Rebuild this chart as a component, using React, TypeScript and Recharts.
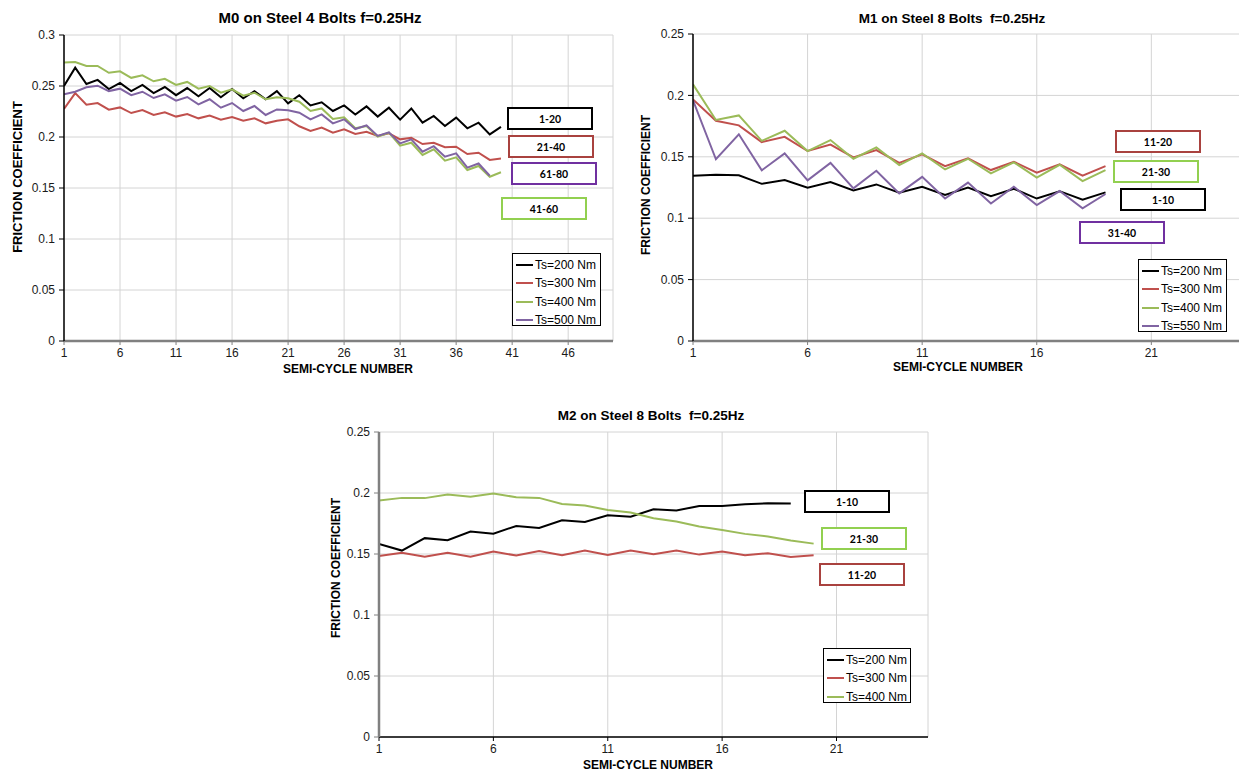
import React from "react";
import { LineChart, Line, XAxis, YAxis, CartesianGrid, Legend } from "recharts";

const FONT = "'Liberation Sans', Arial, sans-serif";
const TAG_FONT = "Lato, 'Liberation Sans', sans-serif";

// M0 on Steel 4 Bolts (semi-cycles 1..40)
const m0Ts200 = [0.250, 0.268, 0.252, 0.256, 0.247, 0.253, 0.245, 0.251, 0.243, 0.249, 0.241, 0.248, 0.240, 0.248, 0.239, 0.247, 0.238, 0.245, 0.237, 0.245, 0.233, 0.241, 0.231, 0.234, 0.2255, 0.231, 0.222, 0.230, 0.220, 0.2287, 0.217, 0.228, 0.214, 0.2206, 0.2108, 0.219, 0.2085, 0.214, 0.2026, 0.210];
const m0Ts300 = [0.2275, 0.243, 0.2317, 0.2333, 0.2268, 0.229, 0.2235, 0.2265, 0.2216, 0.2242, 0.220, 0.2225, 0.2183, 0.221, 0.217, 0.2196, 0.216, 0.2183, 0.2134, 0.216, 0.2173, 0.2105, 0.2059, 0.2092, 0.2042, 0.2075, 0.203, 0.2052, 0.201, 0.2036, 0.1977, 0.1993, 0.1931, 0.1944, 0.190, 0.1905, 0.1833, 0.1846, 0.1775, 0.179];
const m0Ts400 = [0.273, 0.2735, 0.2696, 0.2696, 0.263, 0.2644, 0.258, 0.2605, 0.2546, 0.257, 0.251, 0.254, 0.2474, 0.250, 0.2434, 0.2467, 0.2405, 0.2434, 0.237, 0.239, 0.238, 0.2346, 0.2255, 0.228, 0.2176, 0.2193, 0.2085, 0.2108, 0.2003, 0.2042, 0.1915, 0.1944, 0.1824, 0.188, 0.1768, 0.180, 0.1676, 0.1716, 0.161, 0.1654];
const m0Ts500 = [0.2418, 0.2444, 0.2487, 0.2503, 0.245, 0.2474, 0.241, 0.2444, 0.2382, 0.2418, 0.2356, 0.2392, 0.232, 0.237, 0.2287, 0.2333, 0.2255, 0.2304, 0.2216, 0.227, 0.2262, 0.2238, 0.2173, 0.2222, 0.2134, 0.2173, 0.2078, 0.2114, 0.201, 0.2046, 0.1937, 0.1977, 0.1856, 0.191, 0.1807, 0.184, 0.170, 0.174, 0.162];

// M1 on Steel 8 Bolts
const m1Ts200 = [0.1346, 0.1354, 0.135, 0.128, 0.131, 0.1248, 0.1294, 0.1226, 0.1275, 0.1207, 0.1256, 0.119, 0.125, 0.118, 0.124, 0.116, 0.122, 0.115, 0.121];
const m1Ts300 = [0.1967, 0.1793, 0.1756, 0.162, 0.1663, 0.1547, 0.160, 0.1495, 0.1555, 0.1451, 0.152, 0.1424, 0.1487, 0.1392, 0.146, 0.137, 0.1438, 0.1346, 0.1424];
const m1Ts400 = [0.209, 0.180, 0.1837, 0.163, 0.1712, 0.1547, 0.1636, 0.1484, 0.1577, 0.1433, 0.1528, 0.1397, 0.1484, 0.1365, 0.1455, 0.133, 0.1435, 0.1302, 0.1392];
const m1Ts550 = [0.196, 0.148, 0.1683, 0.139, 0.1528, 0.1308, 0.145, 0.1243, 0.1386, 0.1202, 0.1337, 0.116, 0.129, 0.112, 0.1256, 0.1107, 0.1221, 0.108, 0.1197];

// M2 on Steel 8 Bolts
const m2Ts200 = [0.1582, 0.1528, 0.163, 0.1613, 0.1684, 0.1667, 0.173, 0.1714, 0.1777, 0.1763, 0.1818, 0.1806, 0.1867, 0.1856, 0.1894, 0.1894, 0.1908, 0.1916, 0.1913];
const m2Ts300 = [0.1484, 0.1511, 0.1478, 0.1511, 0.1478, 0.152, 0.1487, 0.1525, 0.149, 0.1528, 0.1492, 0.1528, 0.1498, 0.1528, 0.1495, 0.152, 0.149, 0.1506, 0.1476, 0.149];
const m2Ts400 = [0.1938, 0.196, 0.1958, 0.1987, 0.197, 0.1995, 0.1966, 0.196, 0.191, 0.1897, 0.1861, 0.184, 0.1793, 0.1766, 0.1725, 0.1697, 0.1665, 0.1643, 0.161, 0.1585];

const m0XTicks = [1, 6, 11, 16, 21, 26, 31, 36, 41, 46];
const m12XTicks = [1, 6, 11, 16, 21];
const m0YTicks = [0, 0.05, 0.1, 0.15, 0.2, 0.25, 0.3];
const m12YTicks = [0, 0.05, 0.1, 0.15, 0.2, 0.25];

const m0Tags = ["1-20", "21-40", "61-80", "41-60"];
const m1Tags = ["11-20", "21-30", "1-10", "31-40"];
const m2Tags = ["1-10", "21-30", "11-20"];

const BLACK = "#000000";
const RED = "#C0504D";
const GREEN = "#9BBB59";
const PURPLE = "#8064A2";

type Serie = { key: string; name: string; color: string; values: number[] };

const buildRows = (series: Serie[]) => {
  const n = Math.max(...series.map((s) => s.values.length));
  const rows: any[] = [];
  for (let i = 0; i < n; i++) {
    const row: any = { cycle: i + 1 };
    series.forEach((s) => {
      row[s.key] = i < s.values.length ? s.values[i] : null;
    });
    rows.push(row);
  }
  return rows;
};

const AxisName = (props: any) => {
  const { px, py, text, rotate, size } = props;
  return (
    <text
      x={px}
      y={py}
      textAnchor="middle"
      dominantBaseline="central"
      transform={rotate ? `rotate(-90 ${px} ${py})` : undefined}
      fontFamily={FONT}
      fontWeight="bold"
      fontSize={size}
      fill="#000"
    >
      {text}
    </text>
  );
};

const BoxLegend = (props: any) => {
  const { payload, w, h } = props;
  return (
    <div
      style={{
        width: w,
        height: h,
        border: "1px solid #000",
        background: "#fff",
        boxSizing: "border-box",
        padding: "2px 0 0 3px",
        fontFamily: FONT,
        fontSize: 12,
        color: "#000",
      }}
    >
      {(payload || []).map((p: any) => (
        <div key={p.value} style={{ display: "flex", alignItems: "center", height: 18.3 }}>
          <span style={{ display: "inline-block", width: 17, height: 2, background: p.color, marginRight: 2 }} />
          <span>{p.value}</span>
        </div>
      ))}
    </div>
  );
};

const Tag = ({ x, y, color, text }: { x: number; y: number; color: string; text: string }) => (
  <div
    style={{
      position: "absolute",
      left: x,
      top: y,
      width: 86,
      height: 23,
      border: `2px solid ${color}`,
      boxSizing: "border-box",
      background: "#fff",
      display: "flex",
      alignItems: "center",
      justifyContent: "center",
      fontFamily: TAG_FONT,
      fontWeight: 700,
      fontSize: 10.5,
      color: "#000",
    }}
  >
    {text}
  </div>
);

const Title = ({ x, y, size, text }: { x: number; y: number; size: number; text: string }) => (
  <div
    style={{
      position: "absolute",
      left: x,
      top: y,
      transform: "translate(-50%, -50%)",
      whiteSpace: "pre",
      fontFamily: FONT,
      fontWeight: "bold",
      fontSize: size,
      color: "#000",
    }}
  >
    {text}
  </div>
);

type ChartCfg = {
  left: number;
  top: number;
  series: Serie[];
  xMax: number;
  xTicks: number[];
  yMax: number;
  yTicks: number[];
  marginTop: number;
  marginRight: number;
  yAxisColor: string;
  yAxisWidth: number;
  xAxisColor: string;
  xAxisWidth: number;
  yName: { px: number; py: number; size: number };
  xName: { px: number; py: number; size: number };
  legend: { x: number; y: number; w: number; h: number };
};

const FrictionChart = ({ cfg }: { cfg: ChartCfg }) => {
  const rows = buildRows(cfg.series);
  return (
    <div style={{ position: "absolute", left: cfg.left, top: cfg.top }}>
      <LineChart
        width={625}
        height={380}
        data={rows}
        margin={{ top: cfg.marginTop, right: cfg.marginRight, left: 0, bottom: 0 }}
      >
        <CartesianGrid stroke="#d4d4d4" strokeWidth={1} />
        <XAxis
          dataKey="cycle"
          type="number"
          domain={[1, cfg.xMax]}
          ticks={cfg.xTicks}
          interval={0}
          allowDataOverflow
          height={39}
          tickSize={4}
          tickMargin={3}
          axisLine={{ stroke: cfg.xAxisColor, strokeWidth: cfg.xAxisWidth }}
          tickLine={{ stroke: cfg.xAxisColor }}
          tick={{ fill: "#1a1a1a", fontSize: 12, fontFamily: FONT }}
          label={<AxisName px={cfg.xName.px} py={cfg.xName.py} size={cfg.xName.size} text="SEMI-CYCLE NUMBER" />}
        />
        <YAxis
          type="number"
          domain={[0, cfg.yMax]}
          ticks={cfg.yTicks}
          interval={0}
          allowDataOverflow
          width={cfg.yAxisWidth}
          tickSize={5}
          tickMargin={4}
          axisLine={{ stroke: cfg.yAxisColor, strokeWidth: cfg.yAxisColor === BLACK ? 1.5 : 2.5 }}
          tickLine={{ stroke: cfg.yAxisColor }}
          tick={{ fill: "#1a1a1a", fontSize: 12, fontFamily: FONT }}
          label={<AxisName px={cfg.yName.px} py={cfg.yName.py} size={cfg.yName.size} rotate text="FRICTION COEFFICIENT" />}
        />
        <Legend
          layout="horizontal"
          align="center"
          verticalAlign="middle"
          wrapperStyle={{ left: cfg.legend.x, top: cfg.legend.y, width: cfg.legend.w, height: cfg.legend.h }}
          content={<BoxLegend w={cfg.legend.w} h={cfg.legend.h} />}
        />
        {cfg.series.map((s) => (
          <Line
            key={s.key}
            dataKey={s.key}
            name={s.name}
            type="linear"
            stroke={s.color}
            strokeWidth={2}
            dot={false}
            activeDot={false}
            isAnimationActive={false}
          />
        ))}
      </LineChart>
    </div>
  );
};

const m0Cfg: ChartCfg = {
  left: 0,
  top: 0,
  series: [
    { key: "ts200", name: "Ts=200 Nm", color: BLACK, values: m0Ts200 },
    { key: "ts300", name: "Ts=300 Nm", color: RED, values: m0Ts300 },
    { key: "ts400", name: "Ts=400 Nm", color: GREEN, values: m0Ts400 },
    { key: "ts500", name: "Ts=500 Nm", color: PURPLE, values: m0Ts500 },
  ],
  xMax: 50,
  xTicks: m0XTicks,
  yMax: 0.3,
  yTicks: m0YTicks,
  marginTop: 35,
  marginRight: 12,
  yAxisColor: BLACK,
  yAxisWidth: 64,
  xAxisColor: "#808080",
  xAxisWidth: 2.5,
  yName: { px: 17, py: 177, size: 13 },
  xName: { px: 348, py: 369, size: 12 },
  legend: { x: 512, y: 253, w: 89, h: 73 },
};

const m1Cfg: ChartCfg = {
  left: 630,
  top: 0,
  series: [
    { key: "ts200", name: "Ts=200 Nm", color: BLACK, values: m1Ts200 },
    { key: "ts300", name: "Ts=300 Nm", color: RED, values: m1Ts300 },
    { key: "ts400", name: "Ts=400 Nm", color: GREEN, values: m1Ts400 },
    { key: "ts550", name: "Ts=550 Nm", color: PURPLE, values: m1Ts550 },
  ],
  xMax: 25,
  xTicks: m12XTicks,
  yMax: 0.25,
  yTicks: m12YTicks,
  marginTop: 34,
  marginRight: 12,
  yAxisColor: BLACK,
  yAxisWidth: 63,
  xAxisColor: "#808080",
  xAxisWidth: 2.5,
  yName: { px: 16, py: 185, size: 12 },
  xName: { px: 328, py: 367, size: 12 },
  legend: { x: 508, y: 259, w: 89, h: 73 },
};

const m2Cfg: ChartCfg = {
  left: 315,
  top: 396,
  series: [
    { key: "ts200", name: "Ts=200 Nm", color: BLACK, values: m2Ts200 },
    { key: "ts300", name: "Ts=300 Nm", color: RED, values: m2Ts300 },
    { key: "ts400", name: "Ts=400 Nm", color: GREEN, values: m2Ts400 },
  ],
  xMax: 25,
  xTicks: m12XTicks,
  yMax: 0.25,
  yTicks: m12YTicks,
  marginTop: 36,
  marginRight: 12,
  yAxisColor: "#808080",
  yAxisWidth: 64,
  xAxisColor: BLACK,
  xAxisWidth: 1.5,
  yName: { px: 21, py: 172, size: 12 },
  xName: { px: 333, py: 369, size: 12 },
  legend: { x: 508, y: 252, w: 88, h: 55 },
};

export default function App() {
  return (
    <div
      style={{
        position: "absolute",
        left: 0,
        top: 0,
        width: 1239,
        height: 772,
        overflow: "hidden",
        background: "#fff",
      }}
    >
      <FrictionChart cfg={m0Cfg} />
      <FrictionChart cfg={m1Cfg} />
      <FrictionChart cfg={m2Cfg} />

      <Title x={320} y={17} size={15} text="M0 on Steel 4 Bolts f=0.25Hz" />
      <Title x={952} y={18} size={13.5} text="M1 on Steel 8 Bolts  f=0.25Hz" />
      <Title x={651} y={415} size={13.5} text="M2 on Steel 8 Bolts  f=0.25Hz" />

      <Tag x={507} y={107} color={BLACK} text={m0Tags[0]} />
      <Tag x={508} y={135} color="#A9423F" text={m0Tags[1]} />
      <Tag x={511} y={162} color="#7030A0" text={m0Tags[2]} />
      <Tag x={501} y={197} color="#92D050" text={m0Tags[3]} />

      <Tag x={1115} y={130} color="#A9423F" text={m1Tags[0]} />
      <Tag x={1113} y={160} color="#92D050" text={m1Tags[1]} />
      <Tag x={1120} y={188} color={BLACK} text={m1Tags[2]} />
      <Tag x={1079} y={221} color="#7030A0" text={m1Tags[3]} />

      <Tag x={804} y={490} color={BLACK} text={m2Tags[0]} />
      <Tag x={821} y={527} color="#92D050" text={m2Tags[1]} />
      <Tag x={819} y={563} color="#A9423F" text={m2Tags[2]} />
    </div>
  );
}
